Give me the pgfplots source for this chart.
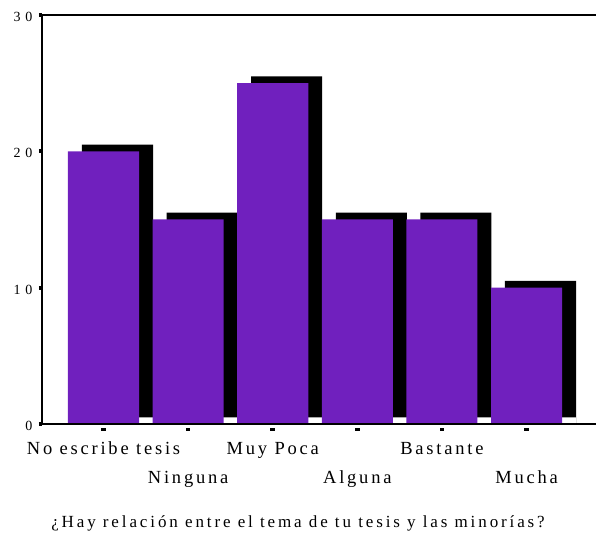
\documentclass[border=0pt]{standalone}
\usepackage{pgfplots}
\pgfplotsset{compat=1.18}
\usepackage{fontspec}
\setmainfont{Liberation Serif}[LetterSpace=15]
\definecolor{barpurple}{RGB}{112,32,190}

\begin{document}
\begin{tikzpicture}
\useasboundingbox (-42pt,-111pt) rectangle (554pt,424pt);
\begin{axis}[
  name=ax, at={(0,0)}, anchor=south west,
  scale only axis, width=554pt, height=409pt,
  xmin=0.273, xmax=6.821, ymin=0, ymax=30,
  ybar, bar width=0.84,
  axis on top,
  axis x line=box, axis y line=left,
  axis line style={-, line width=1.3pt},
  xtick={1,3,5}, xticklabels={No escribe tesis, Muy Poca, Bastante},
  extra x ticks={2,4,6}, extra x tick labels={Ninguna, Alguna, Mucha},
  extra x tick style={xticklabel style={yshift=-29pt}},
  xtick pos=bottom, ytick pos=left,
  ytick={0,10,20,30},
  tick align=outside, major tick length=3pt,
  x tick style={line width=4.5pt, black, yshift=-3.5pt},
  y tick style={line width=4pt, black},
  xticklabel style={font=\fontsize{18.5}{22}\selectfont, anchor=base, yshift=-27pt},
  yticklabel style={font=\fontsize{14}{16}\selectfont\addfontfeature{LetterSpace=35}, xshift=-3pt, yshift=-2pt},
  /pgf/number format/assume math mode=true,
]
% shadow
\addplot[fill=black, draw=none, bar shift=0pt] coordinates
  {(1.165,20.5) (2.165,15.5) (3.165,25.5) (4.165,15.5) (5.165,15.5) (6.165,10.5)};
\addplot[fill=white, draw=none, bar shift=0pt] coordinates
  {(1.165,0.48) (2.165,0.48) (3.165,0.48) (4.165,0.48) (5.165,0.48) (6.165,0.48)};
% bars
\addplot[fill=barpurple, draw=none, bar shift=0pt] coordinates
  {(1,20) (2,15) (3,25) (4,15) (5,15) (6,10)};
\end{axis}
\node[anchor=base, font=\fontsize{17}{20}\selectfont\addfontfeature{LetterSpace=17}] at (256pt,-103pt)
  {¿Hay relación entre el tema de tu tesis y las minorías?};
\end{tikzpicture}
\end{document}
